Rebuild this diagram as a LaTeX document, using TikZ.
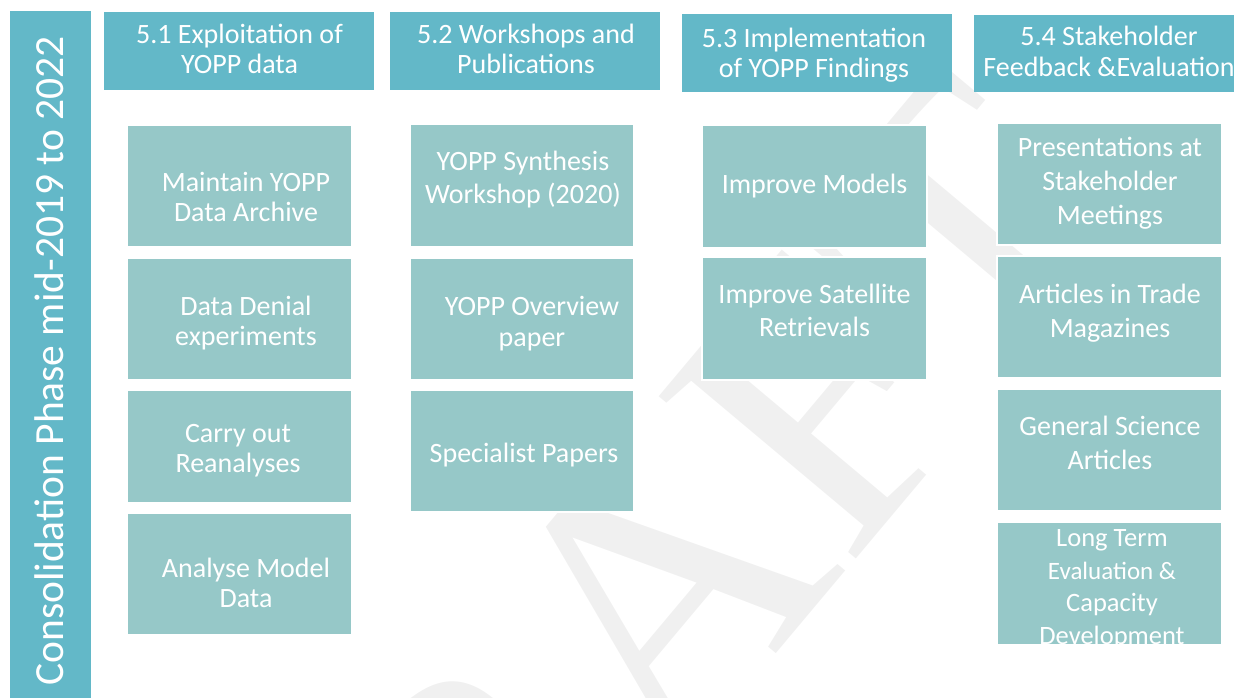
\documentclass[tikz,border=0pt]{standalone}
\usepackage{fontspec}
\setmainfont{Carlito}
\newfontfamily\wmfont{Liberation Serif}
\definecolor{hdr}{RGB}{99,184,200}
\definecolor{bx}{RGB}{150,200,200}
\definecolor{wmgray}{RGB}{240,240,240}
\begin{document}
\begin{tikzpicture}[x=1pt,y=-1pt,
  hdrbox/.style={fill=hdr, draw=none, inner sep=0, outer sep=0},
  cellbox/.style={fill=bx, draw=white, line width=1.5pt, inner sep=0, outer sep=0, minimum width=225},
  lbl/.style={text=white, align=center, inner sep=0, font=\fontsize{28}{#1}\selectfont},
  lbl/.default=30]
\useasboundingbox (0,0) rectangle (1234,697);
% watermark
\begin{scope}
\clip (0,0) rectangle (1234,697);
\node[wmgray, inner sep=0, anchor=base west, rotate=50, font=\wmfont\fontsize{390}{400}\selectfont] (wm) at (318,1200) {DRAFT};
\end{scope}
% vertical bar
\node[hdrbox, minimum width=81, minimum height=690] (bar) at (50.5,356) {};
\node[text=white, inner sep=0, anchor=base, rotate=90, font=\fontsize{41.5}{44}\selectfont] (bartxt) at (63,361) {Consolidation Phase mid-2019 to 2022};
% headers
\node[hdrbox, minimum width=270, minimum height=78] (h1) at (239,51) {};
\node[hdrbox, minimum width=270, minimum height=78] (h2) at (525,51) {};
\node[hdrbox, minimum width=270, minimum height=78] (h3) at (817,53) {};
\node[hdrbox, minimum width=270, minimum height=77] (h4) at (1109,53.5) {};
\node[lbl] (h1t) at (239.5,48.5) {5.1 Exploitation of\\YOPP data};
\node[lbl] (h2t) at (526,48.5) {5.2 Workshops and\\Publications};
\node[lbl] (h3t) at (814,55.3) {5.3 Implementation\\of YOPP Findings};
\node[lbl=31] (h4t) at (1109,51.5) {5.4 Stakeholder\\Feedback \&Evaluation};
% column 1
\node[cellbox, minimum height=122] (b11) at (239.5,186) {};
\node[cellbox, minimum height=122] (b12) at (239.5,319) {};
\node[cellbox, minimum height=113] (b13) at (239.5,446.5) {};
\node[cellbox, minimum height=122] (b14) at (239.5,574) {};
\node[lbl] (l11) at (246,197) {Maintain YOPP\\Data Archive};
\node[lbl] (l12) at (246,323) {Data Denial\\experiments};
\node[lbl] (l13) at (238,451) {Carry out\\Reanalyses};
\node[lbl] (l14) at (246,583) {Analyse Model\\Data};
% column 2
\node[cellbox, minimum width=224, minimum height=122] (b21) at (522,185.5) {};
\node[cellbox, minimum width=224, minimum height=122] (b22) at (522,319) {};
\node[cellbox, minimum width=224, minimum height=122] (b23) at (522,451) {};
\node[lbl=33] (l21) at (523,180) {YOPP Synthesis\\Workshop (2020)};
\node[lbl=31] (l22) at (532,323.5) {YOPP Overview\\paper};
\node[lbl] (l23) at (524,455) {Specialist Papers};
% column 3
\node[cellbox, minimum height=123] (b31) at (814.5,186.5) {};
\node[cellbox, minimum height=123] (b32) at (814.5,318.5) {};
\node[lbl] (l31) at (814.5,186) {Improve Models};
\node[lbl=33] (l32) at (814.5,310.7) {Improve Satellite\\Retrievals};
% column 4
\node[cellbox, minimum height=122] (b41) at (1109.5,184) {};
\node[cellbox, minimum height=122] (b42) at (1109.5,317) {};
\node[cellbox, minimum height=122] (b43) at (1109.5,450) {};
\node[cellbox, minimum height=123] (b44) at (1109.5,583.5) {};
\node[lbl=34] (l41) at (1110,183) {Presentations at\\Stakeholder\\Meetings};
\node[lbl=34] (l42) at (1110,313) {Articles in Trade\\Magazines};
\node[lbl=34] (l43) at (1110,443) {General Science\\Articles};
\begin{scope}
\clip (997,522) rectangle (1222,645);
\node[text=white, align=center, inner sep=0, font=\fontsize{26.5}{32.7}\selectfont] (l44) at (1112,589) {Long Term\\{\fontsize{25}{32.7}\selectfont Evaluation \&}\\Capacity\\Development};
\end{scope}
\end{tikzpicture}
\end{document}
